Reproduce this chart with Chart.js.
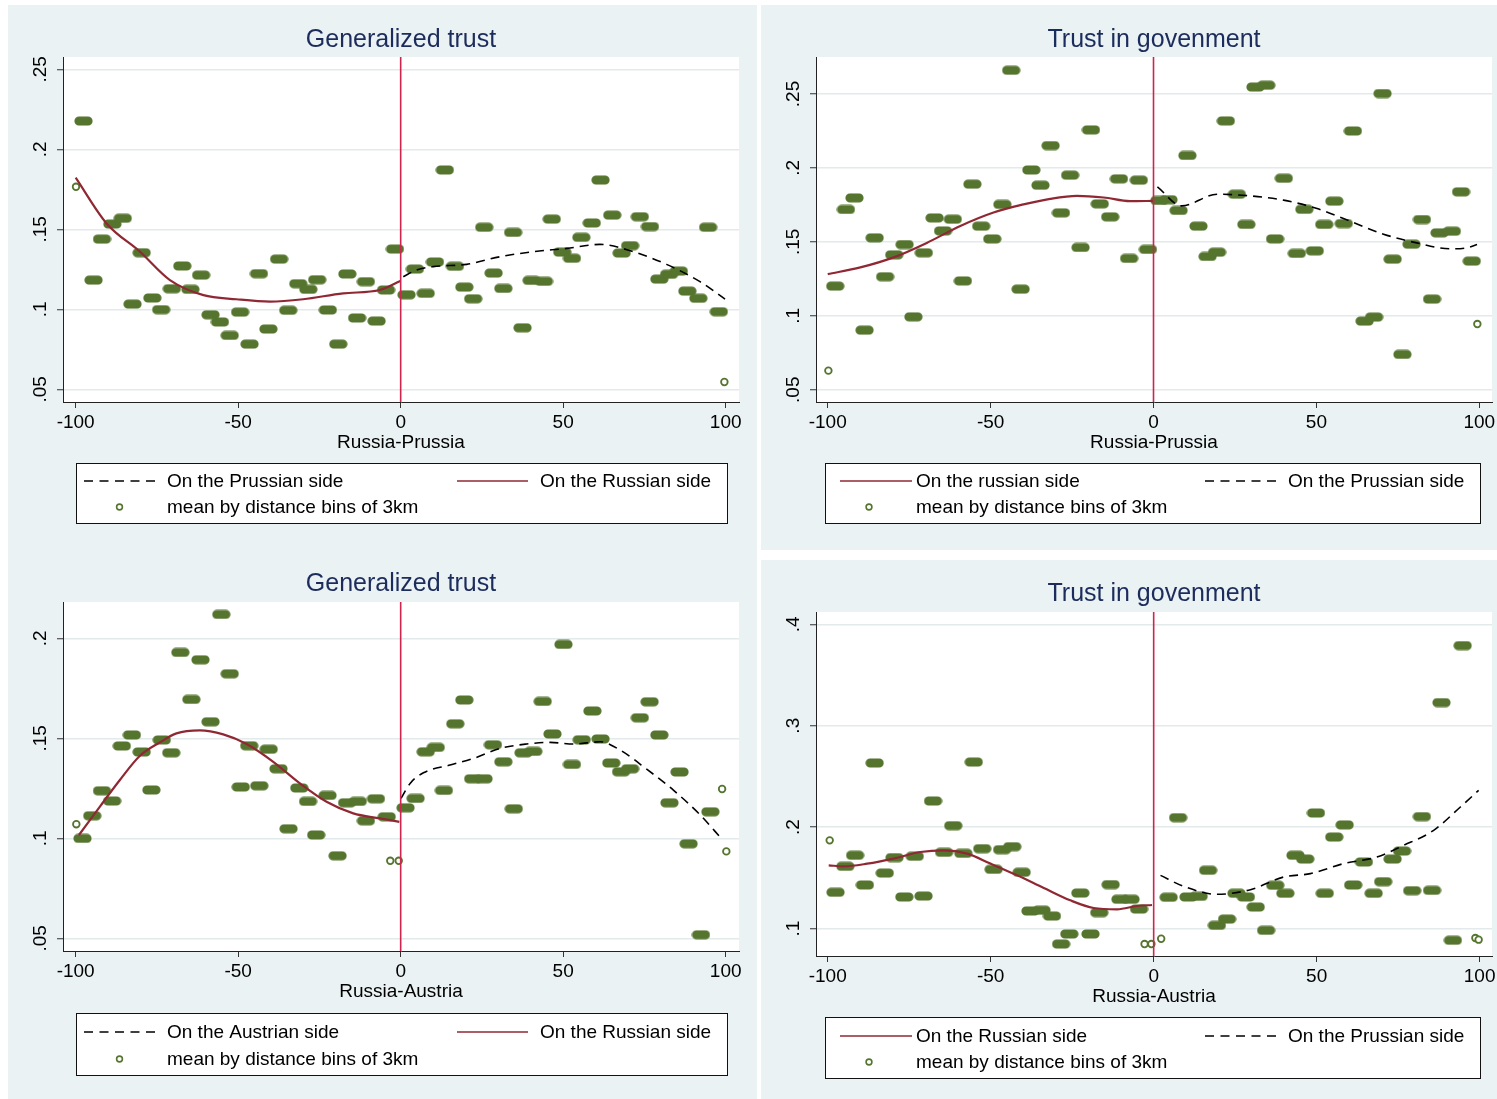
<!DOCTYPE html>
<html><head><meta charset="utf-8">
<script src="https://cdn.jsdelivr.net/npm/chart.js@4.4.1/dist/chart.umd.min.js"></script>
<style>
html,body{margin:0;padding:0;background:#fff}
body{width:1497px;height:1099px;overflow:hidden;position:relative}
canvas{position:absolute}
</style></head>
<body>
<canvas id="c1" style="left:8px;top:5px"></canvas>
<canvas id="c2" style="left:761px;top:5px"></canvas>
<canvas id="c3" style="left:8px;top:550px"></canvas>
<canvas id="c4" style="left:761px;top:560px"></canvas>
<script>
// ---------- shared tick values ----------
const xTickValues = [-100, -50, 0, 50, 100];
const cutoffX = 0;

// ---------- Panel 1: Generalized trust, Russia-Prussia ----------
const gtPrTitle = 'Generalized trust';
const gtPrAxisTitle = 'Russia-Prussia';
const gtPrYTicks = [0.05, 0.10, 0.15, 0.20, 0.25];
const gtPrYLabels = ['.05', '.1', '.15', '.2', '.25'];
const gtPrLegend = ['On the Prussian side', 'On the Russian side', 'mean by distance bins of 3km'];
const gtPrBins = [[-97.6,.2177],[-94.5,.1183],[-91.9,.1439],[-88.7,.1533],[-85.5,.1569],[-82.5,.1033],[-79.7,.1354],[-76.4,.1071],[-73.7,.0998],[-70.4,.1129],[-67.2,.1271],[-64.7,.1125],[-61.4,.1214],[-58.5,.0966],[-55.6,.0921],[-52.6,.0837],[-49.4,.0983],[-46.5,.0783],[-43.6,.1223],[-40.7,.0877],[-37.4,.1314],[-34.6,.0994],[-31.5,.1160],[-28.4,.1125],[-25.7,.1185],[-22.4,.0996],[-19.2,.0783],[-16.4,.1221],[-13.4,.0946],[-10.7,.1173],[-7.4,.0927],[-4.5,.1121],[-1.75,.1377],[1.8,.1091],[4.4,.1252],[7.7,.1100],[10.55,.1296],[13.6,.1871],[16.7,.1269],[19.6,.1139],[22.3,.1066],[25.7,.1513],[28.6,.1227],[31.6,.1131],[34.6,.1481],[37.5,.0885],[40.3,.1181],[44.1,.1175],[46.5,.1564],[49.7,.1358],[52.7,.1319],[55.6,.1450],[58.8,.1540],[61.5,.1808],[65.1,.1589],[68.0,.1352],[70.6,.1398],[73.6,.1579],[76.7,.1517],[79.6,.1189],[82.6,.1219],[85.6,.1239],[88.2,.1114],[91.6,.1069],[94.6,.1513],[97.9,.0985]];
const gtPrSingles = [[-99.9,.1766],[99.6,.0546]];
const gtPrFitRussian = [[-100,.1823],[-90.5,.1537],[-80.2,.1360],[-71,.1183],[-60.7,.1089],[-50.5,.1063],[-40.2,.1048],[-30,.1063],[-17.7,.1100],[-6.4,.1121],[-0.1,.1177]];
const gtPrFitPrussian = [[0.8,.1204],[4.9,.1246],[10,.1267],[20.3,.1281],[30.6,.1329],[40.8,.1360],[51.1,.1381],[61.3,.1406],[71.6,.1360],[81.8,.1281],[92.1,.1173],[99.8,.1064]];

// ---------- Panel 2: Trust in government, Russia-Prussia ----------
const tgPrTitle = 'Trust in govenment';
const tgPrAxisTitle = 'Russia-Prussia';
const tgPrYTicks = [0.05, 0.10, 0.15, 0.20, 0.25];
const tgPrYLabels = ['.05', '.1', '.15', '.2', '.25'];
const tgPrLegend = ['On the russian side', 'On the Prussian side', 'mean by distance bins of 3km'];
const tgPrBins = [[-97.7,.1201],[-94.4,.1719],[-91.8,.1797],[-88.7,.0903],[-85.6,.1527],[-82.4,.1264],[-79.6,.1412],[-76.4,.1482],[-73.7,.0993],[-70.5,.1426],[-67.2,.1662],[-64.6,.1574],[-61.6,.1653],[-58.5,.1236],[-55.6,.1890],[-52.9,.1606],[-49.5,.1520],[-46.4,.1753],[-43.7,.2660],[-40.8,.1180],[-37.5,.1986],[-34.7,.1883],[-31.6,.2151],[-28.4,.1696],[-25.6,.1951],[-22.4,.1462],[-19.2,.2257],[-16.5,.1757],[-13.3,.1669],[-10.6,.1926],[-7.5,.1388],[-4.5,.1917],[-1.7,.1449],[1.8,.1780],[4.6,.1785],[7.7,.1712],[10.4,.2084],[13.8,.1606],[16.6,.1401],[19.5,.1430],[22.2,.2318],[25.6,.1822],[28.5,.1618],[31.3,.2547],[34.6,.2559],[37.3,.1520],[40.0,.1930],[44.0,.1422],[46.3,.1720],[49.5,.1439],[52.4,.1618],[55.5,.1775],[58.4,.1624],[61.2,.2250],[64.8,.0964],[67.7,.0991],[70.3,.2503],[73.4,.1383],[76.4,.0739],[79.2,.1484],[82.4,.1651],[85.5,.1113],[87.8,.1561],[91.6,.1572],[94.4,.1838],[97.7,.1370]];
const tgPrSingles = [[-99.8,.0629],[99.4,.0944]];
const tgPrFitRussian = [[-100,.1282],[-90,.1327],[-79.8,.1395],[-69.6,.1493],[-59.3,.1608],[-49.1,.1699],[-39.9,.1753],[-31.7,.1791],[-23.5,.1811],[-15.3,.1800],[-7.2,.1775],[0,.1777]];
const tgPrFitPrussian = [[1.2,.1872],[8.7,.1743],[19.5,.1822],[29.7,.1811],[39.9,.1782],[50.2,.1725],[58.3,.1658],[70.6,.1552],[80.8,.1493],[91.1,.1453],[96.2,.1460],[99.3,.1482]];

// ---------- Panel 3: Generalized trust, Russia-Austria ----------
const gtAuTitle = 'Generalized trust';
const gtAuAxisTitle = 'Russia-Austria';
const gtAuYTicks = [0.05, 0.10, 0.15, 0.20];
const gtAuYLabels = ['.05', '.1', '.15', '.2'];
const gtAuLegend = ['On the Austrian side', 'On the Russian side', 'mean by distance bins of 3km'];
const gtAuBins = [[-97.9,.1000],[-94.9,.1113],[-91.9,.1238],[-88.8,.1187],[-85.8,.1462],[-82.7,.1517],[-79.7,.1432],[-76.7,.1242],[-73.5,.1492],[-70.6,.1428],[-67.8,.1930],[-64.4,.1695],[-61.6,.1893],[-58.5,.1583],[-55.2,.2120],[-52.6,.1823],[-49.2,.1257],[-46.6,.1463],[-43.5,.1263],[-40.6,.1446],[-37.6,.1348],[-34.5,.1048],[-31.2,.1252],[-28.5,.1185],[-26,.1017],[-22.5,.1215],[-19.4,.0913],[-16.5,.1178],[-13.2,.1185],[-10.7,.1088],[-7.6,.1198],[-4.3,.1108],[1.5,.1153],[4.6,.1200],[7.7,.1433],[10.8,.1455],[13.3,.1240],[16.8,.1573],[19.6,.1692],[22.3,.1298],[25.5,.1298],[28.4,.1468],[31.6,.1383],[34.8,.1148],[37.8,.1428],[40.8,.1435],[43.7,.1685],[46.7,.1522],[50.1,.1970],[52.7,.1370],[55.7,.1493],[59,.1637],[61.5,.1497],[64.8,.1377],[67.8,.1333],[70.6,.1348],[73.6,.1603],[76.6,.1683],[79.6,.1517],[82.7,.1178],[85.8,.1332],[88.6,.0973],[92.4,.0518],[95.3,.1133]];
const gtAuSingles = [[-99.8,.1071],[-3.2,.0888],[-0.6,.0888],[98.9,.1247],[100.2,.0935]];
const gtAuFitRussian = [[-99,.1017],[-92.6,.1158],[-86.4,.1292],[-80.3,.1412],[-74.1,.1480],[-69,.1525],[-61.8,.1540],[-54.6,.1520],[-47.4,.1472],[-39.2,.1383],[-31,.1275],[-22.8,.1183],[-14.6,.1125],[-6.4,.1100],[-0.4,.1083]];
const gtAuFitAustrian = [[0.1,.1200],[2.9,.1275],[7,.1328],[15.2,.1367],[22.4,.1400],[30.6,.1450],[38.8,.1472],[46,.1480],[53.2,.1472],[61.4,.1483],[67.5,.1442],[75.8,.1345],[84,.1240],[92.2,.1117],[98.9,.0995]];

// ---------- Panel 4: Trust in government, Russia-Austria ----------
const tgAuTitle = 'Trust in govenment';
const tgAuAxisTitle = 'Russia-Austria';
const tgAuYTicks = [0.1, 0.2, 0.3, 0.4];
const tgAuYLabels = ['.1', '.2', '.3', '.4'];
const tgAuLegend = ['On the Russian side', 'On the Prussian side', 'mean by distance bins of 3km'];
const tgAuBins = [[-97.6,.1358],[-94.6,.1614],[-91.6,.1723],[-88.6,.1430],[-85.6,.2633],[-82.5,.1548],[-79.5,.1700],[-76.5,.1312],[-73.3,.1713],[-70.6,.1321],[-67.7,.2258],[-64.3,.1752],[-61.5,.2015],[-58.4,.1742],[-55.2,.2642],[-52.6,.1788],[-49.1,.1584],[-46.5,.1778],[-43.4,.1808],[-40.5,.1555],[-37.8,.1174],[-34.4,.1181],[-31.2,.1124],[-28.4,.0848],[-25.9,.0947],[-22.5,.1351],[-19.4,.0947],[-16.7,.1158],[-13.2,.1434],[-10.2,.1289],[-7.1,.1289],[-4.5,.1193],[4.6,.1309],[7.5,.2094],[10.7,.1312],[13.8,.1318],[16.7,.1575],[19.4,.1032],[22.5,.1094],[25.4,.1348],[28.3,.1312],[31.3,.1213],[34.5,.0983],[37.3,.1427],[40.4,.1348],[43.5,.1723],[46.5,.1686],[49.8,.2140],[52.5,.1348],[55.4,.1903],[58.6,.2022],[61.2,.1430],[64.5,.1657],[67.5,.1348],[70.4,.1463],[73.3,.1686],[76.2,.1765],[79.3,.1374],[82.3,.2104],[85.4,.1377],[88.3,.3228],[91.8,.0885],[94.8,.3790]];
const tgAuSingles = [[-99.4,.1870],[-2.8,.0848],[-0.7,.0848],[2.3,.0900],[98.7,.0907],[99.7,.0891]];
const tgAuFitRussian = [[-99.7,.1624],[-95.1,.1614],[-87.9,.1640],[-79.8,.1690],[-71.6,.1755],[-64.4,.1772],[-57.2,.1739],[-50.1,.1641],[-41.9,.1525],[-33.7,.1400],[-25.6,.1279],[-18.4,.1203],[-11.2,.1190],[-5.1,.1223],[-0.5,.1233]];
const tgAuFitOther = [[2.1,.1525],[9.2,.1417],[19.4,.1338],[29.7,.1384],[39.9,.1509],[48.1,.1542],[58.3,.1641],[68.5,.1706],[76.7,.1821],[85.9,.1969],[94.1,.2199],[99.7,.2363]];

// ---------- styling ----------
const BG = 'rgb(234,242,243)';
const GRID = 'rgb(226,234,236)';
const GREEN = 'rgb(85,117,47)';
const MAROON = 'rgb(144,40,52)';
const CUTCOL = 'rgb(206,36,78)';
const NAVY = 'rgb(28,44,92)';
const FONT = '"Liberation Sans", Arial, Helvetica, sans-serif';
const X_H = 40, Y_W = 40;

function pillImage(){
  const c = document.createElement('canvas'); c.width = 19; c.height = 10;
  const g = c.getContext('2d'); g.fillStyle = GREEN;
  g.beginPath();
  g.arc(5, 5, 4.6, Math.PI/2, Math.PI*1.5);
  g.lineTo(14, 0.4);
  g.arc(14, 5, 4.6, -Math.PI/2, Math.PI/2);
  g.closePath(); g.fill();
  return c;
}
const PILL = pillImage();
const pts = arr => arr.map(([x,y]) => ({x, y}));

function lineDs(data, kind){
  return kind === 'dash'
    ? {data: pts(data), showLine: true, borderColor: '#000', borderWidth: 1.6, borderDash: [9,6], pointRadius: 0, cubicInterpolationMode: 'monotone', order: 0, fill: false}
    : {data: pts(data), showLine: true, borderColor: MAROON, borderWidth: 2.2, pointRadius: 0, cubicInterpolationMode: 'monotone', order: 0, fill: false};
}

function makePanel(cfg){
  const cv = document.getElementById(cfg.id);
  cv.width = cfg.w; cv.height = cfg.h;
  const A = cfg.area;
  const plugin = {
    id: 'panel_' + cfg.id,
    beforeDraw(chart){
      const {ctx, chartArea: a} = chart;
      ctx.save();
      ctx.fillStyle = BG; ctx.fillRect(0, 0, chart.width, chart.height);
      ctx.fillStyle = '#fff'; ctx.fillRect(a.left, a.top, a.right - a.left, a.bottom - a.top);
      ctx.restore();
    },
    afterDatasetsDraw(chart){
      const {ctx, chartArea: a, scales} = chart;
      const px = scales.x.getPixelForValue(cutoffX);
      ctx.save(); ctx.strokeStyle = CUTCOL; ctx.lineWidth = 1.6;
      ctx.beginPath(); ctx.moveTo(px, a.top); ctx.lineTo(px, a.bottom); ctx.stroke();
      ctx.restore();
    },
    afterDraw(chart){
      const {ctx, chartArea: a, scales} = chart;
      ctx.save();
      ctx.fillStyle = NAVY; ctx.font = '25px ' + FONT; ctx.textAlign = 'center'; ctx.textBaseline = 'middle';
      ctx.fillText(cfg.title, (a.left + a.right)/2, cfg.titleY);
      ctx.fillStyle = '#000'; ctx.font = '19px ' + FONT;
      ctx.fillText(cfg.axisTitle, (a.left + a.right)/2, a.bottom + 41);
      scales.y.ticks.forEach((t, i) => {
        const py = scales.y.getPixelForValue(t.value);
        ctx.save(); ctx.translate(a.left - 22, py); ctx.rotate(-Math.PI/2);
        ctx.textAlign = 'center'; ctx.textBaseline = 'middle';
        ctx.fillText(cfg.yLabels[i], 0, 0);
        ctx.restore();
      });
      const L = cfg.legend;
      ctx.fillStyle = '#fff'; ctx.fillRect(L.x, L.y, L.w, L.h);
      ctx.strokeStyle = '#111'; ctx.lineWidth = 1; ctx.strokeRect(L.x + 0.5, L.y + 0.5, L.w - 1, L.h - 1);
      ctx.textAlign = 'left'; ctx.textBaseline = 'middle'; ctx.fillStyle = '#000'; ctx.font = '19px ' + FONT;
      L.items.forEach((it, i) => {
        ctx.save();
        if (it.kind === 'dash' || it.kind === 'solid') {
          ctx.beginPath();
          if (it.kind === 'dash') { ctx.strokeStyle = '#000'; ctx.lineWidth = 1.5; ctx.setLineDash([9,6.5]); }
          else { ctx.strokeStyle = MAROON; ctx.lineWidth = 1.6; }
          ctx.moveTo(it.x1, it.y); ctx.lineTo(it.x2, it.y); ctx.stroke();
        } else {
          ctx.beginPath(); ctx.strokeStyle = GREEN; ctx.lineWidth = 1.6;
          ctx.arc(it.x1, it.y, 2.9, 0, Math.PI*2); ctx.stroke();
        }
        ctx.restore();
        ctx.fillText(cfg.legendText[i], it.tx, it.y + 1);
      });
      ctx.restore();
    }
  };

  new Chart(cv, {
    type: 'scatter',
    data: {datasets: [
      {data: pts(cfg.bins), pointStyle: PILL, pointRadius: 9, order: 2},
      {data: pts(cfg.singles), pointStyle: 'circle', pointRadius: 3.3, borderWidth: 1.8, borderColor: GREEN, backgroundColor: '#fff', order: 1},
      lineDs(cfg.fitA, cfg.fitAKind),
      lineDs(cfg.fitB, cfg.fitBKind)
    ]},
    options: {
      responsive: false, animation: false, events: [],
      layout: {autoPadding: false, padding: {left: A.left - Y_W, top: A.top, right: cfg.w - A.right, bottom: cfg.h - A.bottom - X_H}},
      plugins: {legend: {display: false}, tooltip: {enabled: false}, title: {display: false}},
      scales: {
        x: {
          type: 'linear', min: cfg.xMin, max: cfg.xMax,
          afterBuildTicks: s => { s.ticks = xTickValues.map(v => ({value: v})); },
          afterFit: s => { s.height = X_H; s.paddingLeft = 0; s.paddingRight = 0; },
          grid: {drawOnChartArea: false, drawTicks: true, tickLength: 6, tickColor: '#333', tickWidth: 1},
          border: {display: true, color: '#222', width: 1},
          ticks: {font: {size: 19, family: FONT}, color: '#000', padding: 3, maxRotation: 0, minRotation: 0, autoSkip: false, callback: v => String(v)}
        },
        y: {
          type: 'linear', min: cfg.yMin, max: cfg.yMax,
          afterBuildTicks: s => { s.ticks = cfg.yTicks.map(v => ({value: v})); },
          afterFit: s => { s.width = Y_W; s.paddingTop = 0; s.paddingBottom = 0; },
          grid: {color: GRID, lineWidth: 1.5, drawTicks: true, tickLength: 6, tickColor: '#333', tickWidth: 1},
          border: {display: true, color: '#222', width: 1},
          ticks: {display: false}
        }
      }
    },
    plugins: [plugin]
  });
}

makePanel({id: 'c1', w: 749, h: 545, area: {left: 55, top: 52, right: 731, bottom: 397},
  xMin: -103.9, xMax: 104.1, yMin: 0.0421, yMax: 0.2577, yTicks: gtPrYTicks, yLabels: gtPrYLabels,
  title: gtPrTitle, titleY: 35, axisTitle: gtPrAxisTitle,
  bins: gtPrBins, singles: gtPrSingles, fitA: gtPrFitPrussian, fitAKind: 'dash', fitB: gtPrFitRussian, fitBKind: 'solid',
  legendText: gtPrLegend,
  legend: {x: 68, y: 458, w: 652, h: 61, items: [
    {kind: 'dash', x1: 76, x2: 148, y: 476, tx: 159},
    {kind: 'solid', x1: 449, x2: 520, y: 476, tx: 532},
    {kind: 'ring', x1: 111.5, y: 502, tx: 159}]}
});

makePanel({id: 'c2', w: 736, h: 545, area: {left: 55, top: 52, right: 731, bottom: 397},
  xMin: -103.6, xMax: 103.9, yMin: 0.0417, yMax: 0.275, yTicks: tgPrYTicks, yLabels: tgPrYLabels,
  title: tgPrTitle, titleY: 35, axisTitle: tgPrAxisTitle,
  bins: tgPrBins, singles: tgPrSingles, fitA: tgPrFitRussian, fitAKind: 'solid', fitB: tgPrFitPrussian, fitBKind: 'dash',
  legendText: tgPrLegend,
  legend: {x: 64, y: 458, w: 656, h: 61, items: [
    {kind: 'solid', x1: 79, x2: 151, y: 476, tx: 155},
    {kind: 'dash', x1: 444, x2: 517, y: 476, tx: 527},
    {kind: 'ring', x1: 108, y: 502, tx: 155}]}
});

makePanel({id: 'c3', w: 749, h: 549, area: {left: 55, top: 52, right: 731, bottom: 401},
  xMin: -103.9, xMax: 104.1, yMin: 0.0437, yMax: 0.2182, yTicks: gtAuYTicks, yLabels: gtAuYLabels,
  title: gtAuTitle, titleY: 34, axisTitle: gtAuAxisTitle,
  bins: gtAuBins, singles: gtAuSingles, fitA: gtAuFitAustrian, fitAKind: 'dash', fitB: gtAuFitRussian, fitBKind: 'solid',
  legendText: gtAuLegend,
  legend: {x: 68, y: 463, w: 652, h: 63, items: [
    {kind: 'dash', x1: 76, x2: 148, y: 482, tx: 159},
    {kind: 'solid', x1: 449, x2: 520, y: 482, tx: 532},
    {kind: 'ring', x1: 111.5, y: 509, tx: 159}]}
});

makePanel({id: 'c4', w: 736, h: 539, area: {left: 55, top: 52, right: 731, bottom: 396},
  xMin: -103.6, xMax: 103.8, yMin: 0.073, yMax: 0.4121, yTicks: tgAuYTicks, yLabels: tgAuYLabels,
  title: tgAuTitle, titleY: 34, axisTitle: tgAuAxisTitle,
  bins: tgAuBins, singles: tgAuSingles, fitA: tgAuFitRussian, fitAKind: 'solid', fitB: tgAuFitOther, fitBKind: 'dash',
  legendText: tgAuLegend,
  legend: {x: 64, y: 457, w: 656, h: 62, items: [
    {kind: 'solid', x1: 79, x2: 151, y: 476, tx: 155},
    {kind: 'dash', x1: 444, x2: 517, y: 476, tx: 527},
    {kind: 'ring', x1: 108, y: 502, tx: 155}]}
});
</script>
</body></html>
